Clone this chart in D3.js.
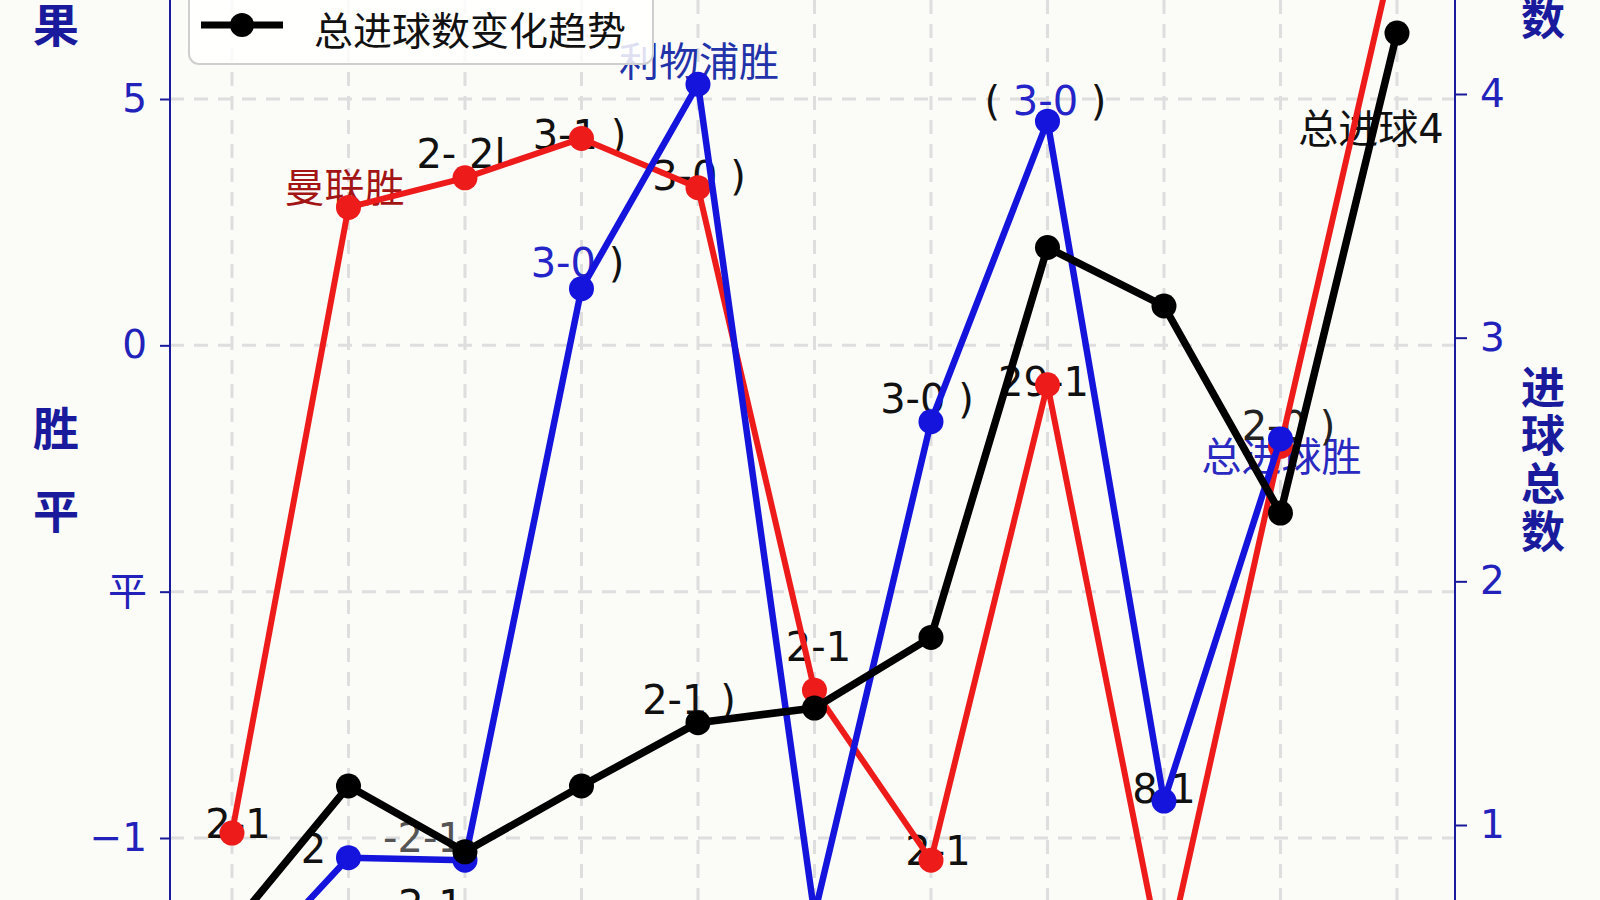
<!DOCTYPE html>
<html>
<head>
<meta charset="utf-8">
<script src="https://cdn.jsdelivr.net/npm/d3@7"></script>
<style>
  body { margin: 0; background: #fbfbf8; }
  svg { display: block; font-family: "DejaVu Sans", "Noto Sans CJK SC", sans-serif; }
</style>
</head>
<body>
<script>
// Data
var matches = [1, 2, 3, 4, 5, 6, 7, 8, 9, 10, 11];
var leftTicks = [0, 1, 2, 3];
var leftTickLabels = ["−1", "平", "0", "5"];
var rightTicks = [1, 2, 3, 4];

// result position (left axis) for each side, total goals (right axis)
var manUtd = [0.02, 2.56, 2.68, 2.84, 2.64, 0.60, -0.09, 1.84, -0.54, 1.59, 3.65];
var liverpool = [-0.59, -0.08, -0.09, 2.23, 3.06, -0.31, 1.69, 2.91, 0.15, 1.62, null];
var totalGoals = [0.58, 1.16, 0.89, 1.16, 1.42, 1.48, 1.77, 3.37, 3.13, 2.28, 4.25];

// annotation texts
var manUtdNotes = ["2-1", "曼联胜", "2- 2l", "3-1 )", "3-0 )", "2-1", "2-1", "29-1", null, null, null];
var liverpoolNotes = [null, "2", "-2-1", "3-0 )", "利物浦胜", null, "3-0 )", "( 3-0 )", "8 1", "总进球胜", null];
var liverpoolNotes2 = [null, null, "2-1", null, null, null, null, null, null, "2-0 )", null];
var goalNotes = [null, null, null, null, "2-1 )", null, null, null, null, null, "总进球4"];
var legendLabel = "总进球数变化趋势";
var leftTitle = ["果", "胜", "平"];
var rightTitle = ["数", "进", "球", "总", "数"];

// Chart params
var svgWidth = 1600;
var svgHeight = 900;
var plotLeft = 170, plotRight = 1455;

var colRed = "#ee1b1b", colBlue = "#1414dd", colNavy = "#1a1a9c", colTick = "#2222bb";

// offsets for notes: [dx, dy, colour]
var noteLayout = {
  manUtd: { 0: [6, -9, "#111"], 1: [-4, -19, "#a31515"], 2: [-4, -24, "#111"], 3: [-2, -3, "#111"],
            4: [1, -12, "#111"], 5: [4, -43, "#111"], 6: [7, -9, "#111"], 7: [-4, -3, "#111"] },
  liverpool: { 1: [-35, -9, "#111"], 2: [-42, -22, "#555"], 3: [-4, -26, "mix"], 4: [1, -22, "#2232a8"],
               6: [-4, -23, "#111"], 7: [-2, -20, "mix"], 8: [0, -12, "#111"], 9: [1, 18, "#2a2ac0"] },
  liverpool2: { 2: [-34, 45, "#111"], 9: [8, -13, "#222"] },
  goals: { 4: [-9, -23, "#111"], 10: [-26, 96, "#111"] }
};

var svg = d3.select("body")
  .append("svg")
  .attr("width", svgWidth)
  .attr("height", svgHeight);

var x = d3.scaleLinear().domain([0.468, 11.498]).range([plotLeft, plotRight]);
var yLeft = d3.scaleLinear().domain([0, 3]).range([838, 99]);
var yRight = d3.scaleLinear().domain([1, 4]).range([825, 94]);

// grid
var grid = svg.append("g");
grid.selectAll(".vgrid")
  .data(matches)
  .enter()
  .append("line")
  .attr("x1", d => x(d)).attr("x2", d => x(d))
  .attr("y1", 0).attr("y2", svgHeight)
  .attr("stroke", "#dedede").attr("stroke-width", 3).attr("stroke-dasharray", "14,10");
grid.selectAll(".hgrid")
  .data(leftTicks)
  .enter()
  .append("line")
  .attr("x1", plotLeft).attr("x2", plotRight)
  .attr("y1", d => yLeft(d)).attr("y2", d => yLeft(d))
  .attr("stroke", "#dedede").attr("stroke-width", 3).attr("stroke-dasharray", "14,10");

// axes
var leftAxis = d3.axisLeft(yLeft)
  .tickValues(leftTicks)
  .tickFormat((d, i) => leftTickLabels[i])
  .tickSize(10).tickPadding(13).tickSizeOuter(0);
var rightAxis = d3.axisRight(yRight)
  .tickValues(rightTicks)
  .tickFormat(d3.format("d"))
  .tickSize(12).tickPadding(13).tickSizeOuter(0);

function styleAxis(g) {
  g.select(".domain").remove();
  g.selectAll(".tick line").attr("stroke", colNavy).attr("stroke-width", 2);
  g.selectAll(".tick text").attr("fill", colTick).style("font-size", "39px")
    .style("font-family", "'DejaVu Sans', 'Noto Sans CJK SC', sans-serif");
}
svg.append("g").attr("transform", `translate(${plotLeft},0)`).call(leftAxis).call(styleAxis);
svg.append("g").attr("transform", `translate(${plotRight},0)`).call(rightAxis).call(styleAxis);
[plotLeft, plotRight].forEach(function(px) {
  svg.append("line").attr("x1", px).attr("x2", px).attr("y1", 0).attr("y2", svgHeight)
    .attr("stroke", colNavy).attr("stroke-width", 2);
});

// axis titles (vertical, one character per line)
svg.selectAll(".ltitle")
  .data(leftTitle)
  .enter()
  .append("text")
  .attr("x", 56)
  .attr("y", (d, i) => [22, 425, 508][i])
  .attr("text-anchor", "middle").attr("dominant-baseline", "central")
  .attr("fill", colNavy).style("font-size", "46px").style("font-weight", "bold")
  .style("font-family", "'Noto Sans CJK SC', sans-serif")
  .text(d => d);
svg.selectAll(".rtitle")
  .data(rightTitle)
  .enter()
  .append("text")
  .attr("x", 1543)
  .attr("y", (d, i) => i === 0 ? 16 : 385 + (i - 1) * 48)
  .attr("text-anchor", "middle").attr("dominant-baseline", "central")
  .attr("fill", colNavy).style("font-size", "44px").style("font-weight", "bold")
  .style("font-family", "'Noto Sans CJK SC', sans-serif")
  .text(d => d);

// notes (drawn under the lines)
var noteGroup = svg.append("g");
function addNotes(notes, values, scale, layout) {
  notes.forEach(function(t, i) {
    if (t == null || !layout[i]) return;
    var lay = layout[i];
    var txt = noteGroup.append("text")
      .attr("x", x(matches[i]) + lay[0])
      .attr("y", scale(values[i]) + lay[1])
      .attr("text-anchor", "middle").attr("dominant-baseline", "central")
      .style("font-size", "40px");
    if (lay[2] === "mix") {
      t.split(/([()])/).filter(s => s !== "").forEach(function(s) {
        txt.append("tspan").attr("fill", /[()]/.test(s) ? "#111" : "#2424c8").text(s);
      });
    } else {
      txt.attr("fill", lay[2]).text(t);
    }
  });
}
addNotes(manUtdNotes, manUtd, yLeft, noteLayout.manUtd);
addNotes(liverpoolNotes, liverpool, yLeft, noteLayout.liverpool);
addNotes(liverpoolNotes2, liverpool, yLeft, noteLayout.liverpool2);
addNotes(goalNotes, totalGoals, yRight, noteLayout.goals);

// series
function drawSeries(values, scale, color, width) {
  var line = d3.line()
    .defined(d => d != null)
    .x((d, i) => x(matches[i]))
    .y(d => scale(d));
  svg.append("path")
    .datum(values)
    .attr("d", line)
    .attr("fill", "none")
    .attr("stroke", color)
    .attr("stroke-width", width)
    .attr("stroke-linejoin", "round");
  svg.append("g")
    .selectAll("circle")
    .data(values.map((v, i) => ({ v: v, m: matches[i] })).filter(d => d.v != null))
    .enter()
    .append("circle")
    .attr("cx", d => x(d.m))
    .attr("cy", d => scale(d.v))
    .attr("r", 12.5)
    .attr("fill", color);
}
drawSeries(manUtd, yLeft, colRed, 6);
drawSeries(liverpool, yLeft, colBlue, 6.5);
drawSeries(totalGoals, yRight, "#000", 7.5);

// legend
var legend = svg.append("g");
legend.append("rect")
  .attr("x", 189).attr("y", -12).attr("width", 464).attr("height", 76).attr("rx", 10)
  .attr("fill", "#fff").attr("fill-opacity", 0.85)
  .attr("stroke", "#cfcfcf").attr("stroke-width", 2);
legend.append("line")
  .attr("x1", 201).attr("x2", 283).attr("y1", 25).attr("y2", 25)
  .attr("stroke", "#000").attr("stroke-width", 7);
legend.append("circle").attr("cx", 242).attr("cy", 25).attr("r", 12).attr("fill", "#000");
legend.append("text")
  .attr("x", 314).attr("y", 28)
  .attr("dominant-baseline", "central")
  .attr("fill", "#111").style("font-size", "39px")
  .style("font-family", "'Noto Sans CJK SC', sans-serif")
  .text(legendLabel);
</script>
</body>
</html>
